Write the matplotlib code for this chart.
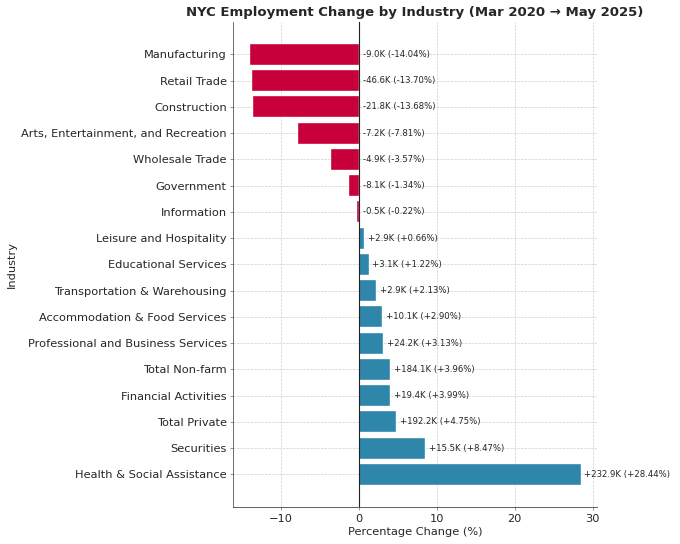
import matplotlib
matplotlib.use("Agg")
import matplotlib.pyplot as plt

industries = [
    "Manufacturing", "Retail Trade", "Construction",
    "Arts, Entertainment, and Recreation", "Wholesale Trade", "Government",
    "Information", "Leisure and Hospitality", "Educational Services",
    "Transportation & Warehousing", "Accommodation & Food Services",
    "Professional and Business Services", "Total Non-farm",
    "Financial Activities", "Total Private", "Securities",
    "Health & Social Assistance",
]
pct_change = [-14.04, -13.70, -13.68, -7.81, -3.57, -1.34, -0.22, 0.66, 1.22,
              2.13, 2.90, 3.13, 3.96, 3.99, 4.75, 8.47, 28.44]
abs_change_k = [-9.0, -46.6, -21.8, -7.2, -4.9, -8.1, -0.5, 2.9, 3.1,
                2.9, 10.1, 24.2, 184.1, 19.4, 192.2, 15.5, 232.9]

RED = "#c8003a"
BLUE = "#2e86ab"
TEXT = "#262626"

plt.rcParams["text.color"] = TEXT
plt.rcParams["axes.labelcolor"] = TEXT
plt.rcParams["xtick.color"] = TEXT
plt.rcParams["ytick.color"] = TEXT

fig, ax = plt.subplots(figsize=(10, 8), dpi=68)
fig.subplots_adjust(left=0.343, right=0.878, bottom=0.068, top=0.96)

colors = [RED if v < 0 else BLUE for v in pct_change]
ax.barh(industries, pct_change, color=colors, edgecolor="white", linewidth=0.4)
ax.invert_yaxis()
ax.axvline(0, color="#222222", linewidth=1.2)

for i, (p, a) in enumerate(zip(pct_change, abs_change_k)):
    ax.text(max(p, 0) + 0.5, i, f"{a:+.1f}K ({p:+.2f}%)",
            va="center", ha="left", fontsize=9, color=TEXT)

ax.set_title("NYC Employment Change by Industry (Mar 2020 \u2192 May 2025)",
             fontsize=14, fontweight="bold", pad=6)
ax.set_xlabel("Percentage Change (%)", fontsize=12)
ax.set_ylabel("Industry", fontsize=12)
ax.tick_params(axis="both", labelsize=12, color="#777777")
ax.grid(True, linestyle="--", color="#cccccc", linewidth=0.7)
ax.set_axisbelow(True)
ax.spines["top"].set_visible(False)
ax.spines["right"].set_visible(False)
ax.spines["left"].set_color("#444444")
ax.spines["bottom"].set_color("#333333")

fig.savefig("out.png", dpi=68)
